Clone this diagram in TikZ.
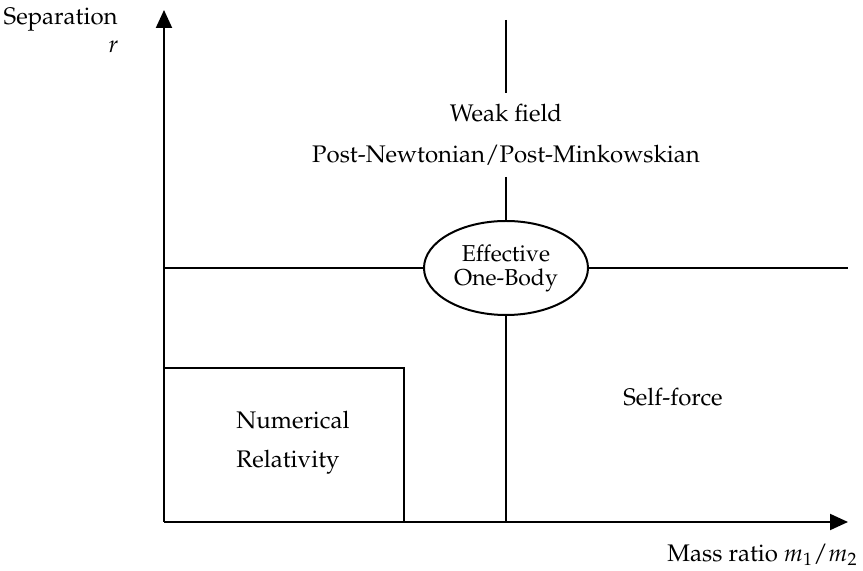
\documentclass[tikz,border=0pt]{standalone}
\usepackage[T1]{fontenc}
\usepackage{mathpazo}
\usetikzlibrary{arrows.meta,shapes.geometric}
\begin{document}
\begin{tikzpicture}[x=0.5pt,y=-0.5pt,
  line/.style={line width=1pt},
  axis/.style={line width=1pt,-{Triangle[length=9pt,width=8pt]}},
  lbl/.style={font=\fontsize{12}{14}\selectfont,inner sep=0pt},
  eobshape/.style={ellipse,draw,line width=1pt,minimum width=82pt,minimum height=47pt,inner sep=0pt,align=center,font=\fontsize{11.5}{13}\selectfont}]
\useasboundingbox (0,0) rectangle (863,571);
% origin and axes
\coordinate (o) at (164,522);
\coordinate (ytip) at (164,10);
\coordinate (xtip) at (848,522);
\draw[axis] (o) -- (ytip);
\draw[axis] (o) -- (xtip);
% central ellipse
\node[eobshape] (eob) at (506,268) {Effective\\[-1pt]One-Body};
% region boundaries
\coordinate (hl) at (164,268);
\coordinate (hr) at (848,268);
\coordinate (vtop) at (506,20);
\coordinate (vtopend) at (506,93);
\coordinate (vmid) at (506,177);
\coordinate (vbot) at (506,522);
\draw[line] (hl) -- (eob.west);
\draw[line] (eob.east) -- (hr);
\draw[line] (vtop) -- (vtopend);
\draw[line] (vmid) -- (eob.north);
\draw[line] (eob.south) -- (vbot);
% numerical relativity box
\coordinate (nr1) at (164,368);
\coordinate (nr2) at (404,522);
\draw[line] (nr1) -| (nr2);
% labels
\node[lbl] (weak) at (506,113) {Weak field};
\node[lbl] (pn) at (506,155) {Post-Newtonian/Post-Minkowskian};
\node[lbl,anchor=west] (num) at (236,420) {Numerical};
\node[lbl,anchor=west] (rel) at (236,462) {Relativity};
\node[lbl] (sf) at (673,397) {Self-force};
\node[lbl,anchor=east] (sep) at (118,20) {Separation};
\node[lbl,anchor=east] (r) at (119,47) {$r$};
\node[lbl,anchor=east] (mass) at (858,555) {Mass ratio $m_1/m_2$};
\end{tikzpicture}
\end{document}
